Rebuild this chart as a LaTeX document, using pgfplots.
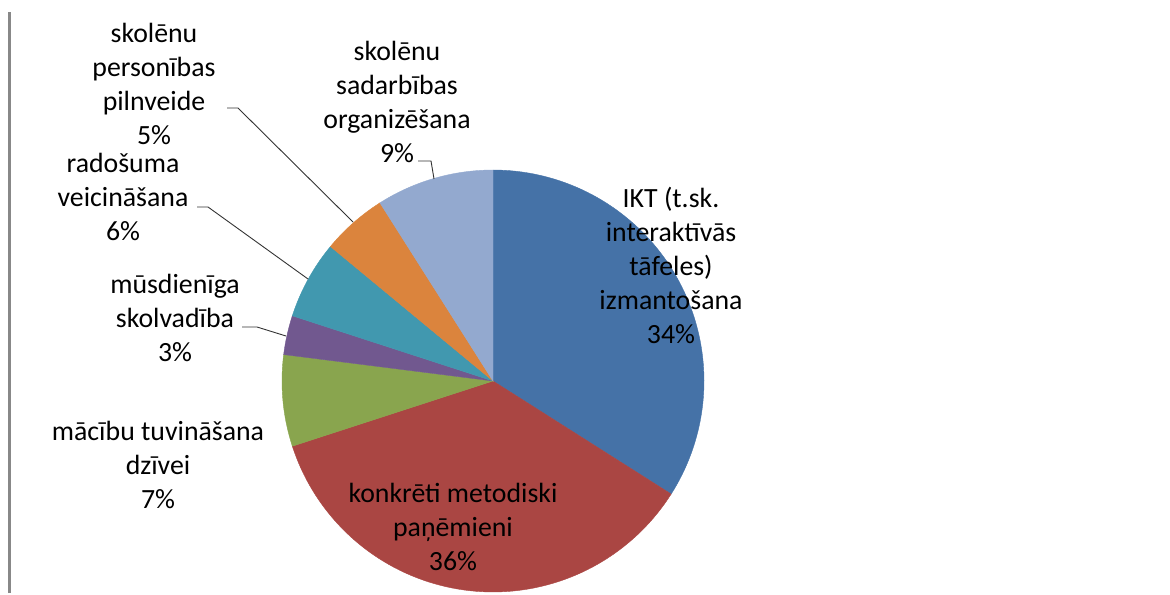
\documentclass[border=0pt]{standalone}
\usepackage{pgfplots}
\pgfplotsset{compat=1.18}
\usepackage{fontspec}
\setmainfont{Carlito}
\definecolor{cIKT}{HTML}{4572A7}
\definecolor{cKonk}{HTML}{AA4643}
\definecolor{cMac}{HTML}{89A54E}
\definecolor{cMus}{HTML}{71588F}
\definecolor{cRad}{HTML}{4198AF}
\definecolor{cPers}{HTML}{DB843D}
\definecolor{cSad}{HTML}{93A9CF}
\definecolor{frameGray}{HTML}{888888}
% pie centre and radius (picture units: 1 unit = 1 px of a 1170x594 picture)
\def\cx{493}\def\cy{213}\def\rr{211}
% slice: start share (%), end share (%), colour
\newcommand{\slice}[3]{%
  \addplot[fill=#3, draw=#3, line width=0.2pt, domain={90-3.6*#1}:{90-3.6*#2}, samples=80, variable=\t]
    ({\cx+\rr*cos(\t)},{\cy+\rr*sin(\t)}) -- (axis cs:\cx,\cy) -- cycle;}
\tikzset{lbl/.style={font=\fontsize{13.9}{17}\selectfont, align=center, text=black, inner sep=0pt}}
\begin{document}
\begin{tikzpicture}
\begin{axis}[
  width=585pt, height=297pt, scale only axis,
  xmin=0, xmax=1170, ymin=0, ymax=594,
  hide axis, clip=false,
]
\path (rel axis cs:0,0) rectangle (rel axis cs:1,1);
% shares: IKT 34, konkreti 36, macibu 7, musdieniga 3, radosuma 6, personibas 5, sadarbibas 9
\slice{0}{34}{cIKT}
\slice{34}{70}{cKonk}
\slice{70}{77}{cMac}
\slice{77}{80}{cMus}
\slice{80}{86}{cRad}
\slice{86}{91}{cPers}
\slice{91}{100}{cSad}
% frame line at left
\addplot[frameGray, line width=1.5pt] coordinates {(9,1) (9,582)};
% leader lines
\addplot[black!80, line width=0.45pt] coordinates {(227,486) (238,486) (353,372)};
\addplot[black!80, line width=0.45pt] coordinates {(197,387) (208,387) (308,315)};
\addplot[black!80, line width=0.45pt] coordinates {(242,267) (257,267) (286,258)};
\addplot[black!80, line width=0.45pt] coordinates {(418,433) (431,433) (434,415)};
% labels
\node[lbl] at (axis cs:154,510) {skolēnu\\personības\\pilnveide\\5\%};
\node[lbl] at (axis cs:397,492.5) {skolēnu\\sadarbības\\organizēšana\\9\%};
\node[lbl] at (axis cs:123,397.5) {radošuma\\veicināšana\\6\%};
\node[lbl] at (axis cs:175,276) {mūsdienīga\\skolvadība\\3\%};
\node[lbl] at (axis cs:158,129) {mācību tuvināšana\\dzīvei\\7\%};
\node[lbl] at (axis cs:453,67.5) {konkrēti metodiski\\paņēmieni\\36\%};
\node[lbl] at (axis cs:671,329) {IKT (t.sk.\\interaktīvās\\tāfeles)\\izmantošana\\34\%};
\end{axis}
\end{tikzpicture}
\end{document}
